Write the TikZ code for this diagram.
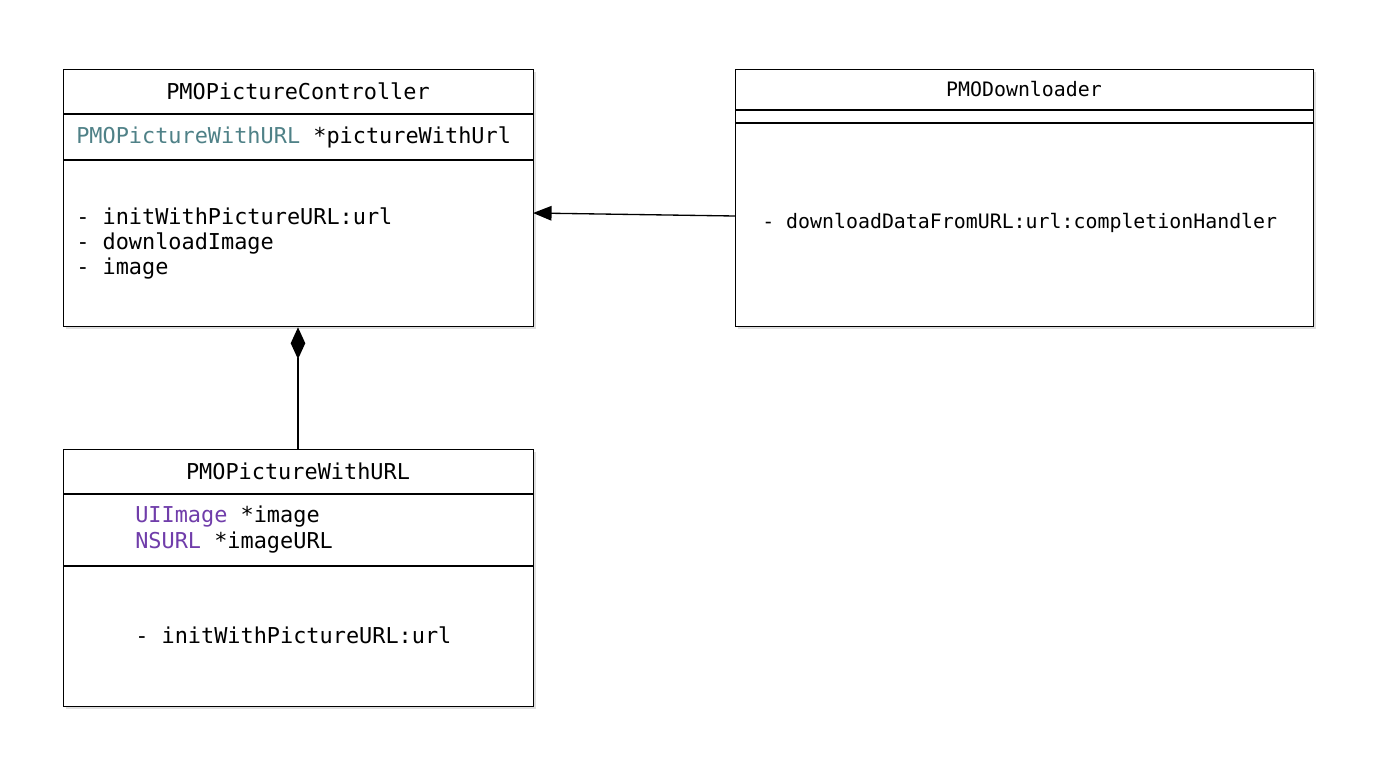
\documentclass[tikz,border=0pt]{standalone}
\usepackage{fontspec}
\setmonofont{DejaVu Sans Mono}
\usetikzlibrary{arrows.meta,shadows,positioning}
\definecolor{type teal}{HTML}{4F8187}
\definecolor{type purple}{HTML}{703DAA}
\begin{document}
\begin{tikzpicture}[x=0.0265cm,y=-0.0265cm,
  box/.style={draw,line width=1pt,fill=white,anchor=north west,inner sep=0,
    drop shadow={shadow xshift=2pt,shadow yshift=-2pt,opacity=0.25}},
  rule/.style={line width=1pt},
  big/.style={font=\ttfamily\fontsize{16.5}{19}\selectfont},
  small/.style={font=\ttfamily\fontsize{15}{18}\selectfont},
  member/.style={anchor=west,inner sep=0},
]
  \useasboundingbox (0,0) rectangle (1374,774);
  % boxes
  \node[box,minimum width=470*0.0265cm,minimum height=257*0.0265cm] (ctrl) at (63,69) {};
  \node[box,minimum width=578*0.0265cm,minimum height=257*0.0265cm] (dl) at (735,69) {};
  \node[box,minimum width=470*0.0265cm,minimum height=257*0.0265cm] (pic) at (63,449) {};
  % dividers
  \draw[rule] (63,114) -- (533,114) (63,160) -- (533,160);
  \draw[rule] (735,110) -- (1313,110) (735,123) -- (1313,123);
  \draw[rule] (63,494) -- (533,494) (63,566) -- (533,566);
  % titles
  \node[big] (ctrlname) at (298,91) {PMOPictureController};
  \node[small] (dlname) at (1024,89) {PMODownloader};
  \node[big] (picname) at (298,471) {PMOPictureWithURL};
  % members
  \node[big,member] (a1) at (76,137) {\textcolor{type teal}{PMOPictureWithURL} *pictureWithUrl};
  \node[big,member] (m1) at (76,216) {- initWithPictureURL:url};
  \node[big,member] (m2) at (76,243) {- downloadImage};
  \node[big,member] (m3) at (76,269) {- image};
  \node[small,member] (m4) at (762,223) {- downloadDataFromURL:url:completionHandler};
  \node[big,member] (a2) at (135,517) {\textcolor{type purple}{UIImage} *image};
  \node[big,member] (a3) at (135,543) {\textcolor{type purple}{NSURL} *imageURL};
  \node[big,member] (m5) at (135,635) {- initWithPictureURL:url};
  % connectors
  \coordinate (dlin) at (735,216);
  \coordinate (ctrlin) at (533,213);
  \draw[line width=1pt,-{Triangle[length=14pt,width=11pt]}] (dlin) -- (ctrlin);
  \draw[line width=1pt,{Diamond[length=24pt,width=11pt]}-] (ctrl.south -| 298,0) -- (pic.north -| 298,0);
\end{tikzpicture}
\end{document}
